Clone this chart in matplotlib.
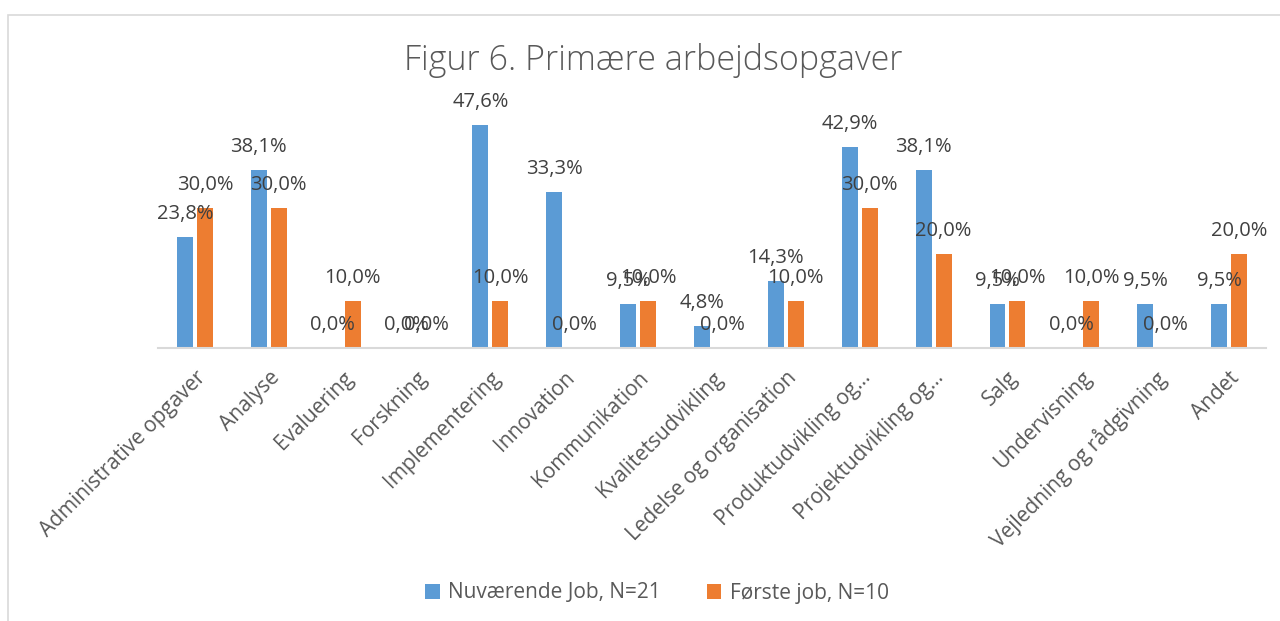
import numpy as np
import matplotlib
matplotlib.use('Agg')
import matplotlib.pyplot as plt
from matplotlib.patches import Rectangle

categories = ['Administrative opgaver', 'Analyse', 'Evaluering', 'Forskning',
              'Implementering', 'Innovation', 'Kommunikation', 'Kvalitetsudvikling',
              'Ledelse og organisation', 'Produktudvikling og…', 'Projektudvikling og…',
              'Salg', 'Undervisning', 'Vejledning og rådgivning', 'Andet']
nuvaerende = [23.8, 38.1, 0.0, 0.0, 47.6, 33.3, 9.5, 4.8, 14.3, 42.9, 38.1, 9.5, 0.0, 9.5, 9.5]
foerste = [30.0, 30.0, 10.0, 0.0, 10.0, 0.0, 10.0, 0.0, 10.0, 30.0, 20.0, 10.0, 10.0, 0.0, 20.0]
series_names = ['Nuværende Job, N=21', 'Første job, N=10']

BLUE = '#5B9BD5'
ORANGE = '#ED7D31'
plt.rcParams['font.family'] = ['Open Sans', 'DejaVu Sans']

fig = plt.figure(figsize=(12.8, 6.21), dpi=100)
# chart frame like the Excel chart area
fig.patches.append(Rectangle((8 / 1280, -0.05), 1.1, 1 - 15 / 621 + 0.05, transform=fig.transFigure,
                             fill=False, edgecolor='#D9D9D9', linewidth=1.2))

ax = fig.add_axes([158 / 1280, 1 - 348 / 621, (1266 - 158) / 1280, 234 / 621])
x = np.arange(len(categories))
w = 0.215
off = 0.135
b1 = ax.bar(x - off, nuvaerende, w, color=BLUE, label=series_names[0])
b2 = ax.bar(x + off, foerste, w, color=ORANGE, label=series_names[1])

for bars, vals in ((b1, nuvaerende), (b2, foerste)):
    for bar, v in zip(bars, vals):
        ax.annotate(f'{v:.1f}%'.replace('.', ','),
                    (bar.get_x() + bar.get_width() / 2, v),
                    xytext=(0, 13), textcoords='offset pixels',
                    ha='center', va='bottom', fontsize=14.5, color='#404040')

ax.set_xlim(-0.5, len(categories) - 0.5)
ax.set_ylim(0, 50)
ax.set_yticks([])
for s in ('top', 'right', 'left'):
    ax.spines[s].set_visible(False)
ax.spines['bottom'].set_color('#D9D9D9')
ax.spines['bottom'].set_linewidth(1.5)
ax.set_xticks(x)
ax.set_xticklabels(categories, rotation=45, ha='right', va='top',
                   rotation_mode='anchor', fontsize=15, color='#595959')
ax.tick_params(axis='x', length=0, pad=14)

fig.text(653 / 1280, 1 - 60 / 621, 'Figur 6. Primære arbejdsopgaver', ha='center', va='center',
         fontsize=24.5, color='#595959', fontweight='light')

fig.legend(loc='center', bbox_to_anchor=(657 / 1280, 1 - 593 / 621), ncol=2, frameon=False,
           fontsize=15, labelcolor='#595959', handlelength=0.7, handleheight=0.7,
           columnspacing=2.2, handletextpad=0.4)

fig.savefig('out.png', dpi=100)
